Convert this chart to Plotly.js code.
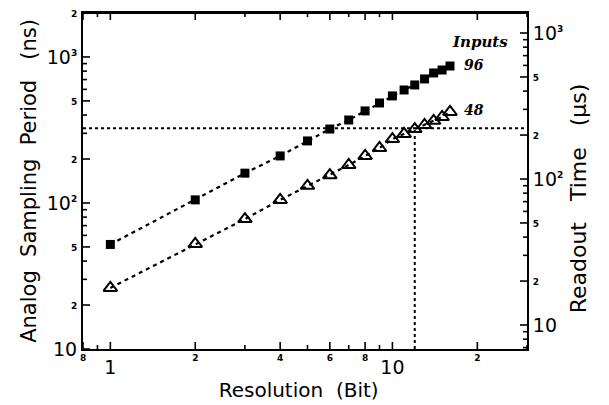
<!DOCTYPE html>
<html>
<head>
<meta charset="utf-8">
<script src="https://cdn.plot.ly/plotly-3.0.1.min.js"></script>
<style>html,body{margin:0;padding:0;background:#fff;}#chart{width:609px;height:405px;}</style>
</head>
<body>
<div id="chart"></div>
<script>
// Resolution (bit)
const resolution = [1,2,3,4,5,6,7,8,9,10,11,12,13,14,15,16];
// Analog sampling period (ns), 96 inputs
const period96 = [52,105,160,210,266,321,370,427,484,541,594,643,707,777,814,867];
// Analog sampling period (ns), 48 inputs
const period48 = [26.2,52.4,77.6,105,131,155,182,210,238,274,297,321,342,365,388,420];
const legendLabels = ["Inputs","96","48"];
// reference (dotted) lines
const refPeriod = 325;    // ns
const refResolution = 12; // bit
// axis limits
const xLimits = [0.8, 30];
const yLimits = [10, 2000];
const y2Limits = [6.85, 1371];

// tick labels ("s" = small label, "e" = power of ten)
const xLabels = {0.8:"s8",1:"1",2:"s2",4:"s4",6:"s6",8:"s8",10:"10",20:"s2"};
const yLabels = {10:"10",20:"s2",50:"s5",100:"e2",200:"s2",500:"s5",1000:"e3",2000:"s2"};
const y2Labels = {10:"10",20:"s2",50:"s5",100:"e2",200:"s2",500:"s5",1000:"e3"};

function fmt(code, shift){
  if(!code) return "";
  if(code[0]==="s") return "<span style='font-size:9px;font-weight:bold;baseline-shift:"+shift+"px'>"+code.slice(1)+"</span>";
  if(code[0]==="e") return "10<sup><span style='font-size:9px;font-weight:bold'>"+code.slice(1)+"</span></sup>";
  return code;
}
function tickSet(lim, labels, shift){
  const vals=[], text=[], major=[];
  for(let d=0.1; d<1e5; d*=10){
    for(let m=1;m<10;m++){
      const v=Math.round(m*d*1000)/1000;
      if(v>=lim[0]-1e-9 && v<=lim[1]+1e-9){ vals.push(v); text.push(fmt(labels[v], shift)); major.push(!!labels[v]); }
    }
  }
  return {vals, text, major};
}
const xt = tickSet(xLimits, xLabels, 13);
const yt = tickSet(yLimits, yLabels, 3);
const y2t = tickSet(y2Limits, y2Labels, 3);

// inside tick marks as line segments on the log axes
const plotW = 609-83-82, plotH = 405-13-56;
const xPxPerDec = plotW / Math.log10(xLimits[1]/xLimits[0]);
const yPxPerDec = plotH / Math.log10(yLimits[1]/yLimits[0]);
const y2PxPerDec = plotH / Math.log10(y2Limits[1]/y2Limits[0]);
const lenOf = m => m ? 7 : 4;
const tx=[], ty=[];
xt.vals.forEach((v,i)=>{
  const f = Math.pow(10, lenOf(xt.major[i])/yPxPerDec);
  tx.push(v,v,null, v,v,null);
  ty.push(yLimits[0], yLimits[0]*f, null, yLimits[1], yLimits[1]/f, null);
});
yt.vals.forEach((v,i)=>{
  const g = Math.pow(10, lenOf(yt.major[i])/xPxPerDec);
  tx.push(xLimits[0], xLimits[0]*g, null);
  ty.push(v, v, null);
});
const t2x=[], t2y=[];
y2t.vals.forEach((v,i)=>{
  const g = Math.pow(10, lenOf(y2t.major[i])/xPxPerDec);
  t2x.push(xLimits[1], xLimits[1]/g, null);
  t2y.push(v, v, null);
});

const lineStyle = {color:'black', width:2.2, dash:'4px,4px'};
const refStyle = {color:'black', width:2, dash:'dot'};

const traces = [
  {x:tx, y:ty, mode:'lines', line:{color:'black', width:1.6}, connectgaps:false, cliponaxis:false, showlegend:false, hoverinfo:'skip'},
  {x:t2x, y:t2y, yaxis:'y2', mode:'lines', line:{color:'black', width:1.6}, connectgaps:false, cliponaxis:false, showlegend:false, hoverinfo:'skip'},
  {x:xLimits, y:[yLimits[1], yLimits[1]], mode:'lines', line:{color:'black', width:2}, cliponaxis:false, showlegend:false, hoverinfo:'skip'},
  {x:xLimits, y:[refPeriod, refPeriod], mode:'lines', line:refStyle, showlegend:false, hoverinfo:'skip'},
  {x:[refResolution, refResolution], y:[yLimits[0], refPeriod], mode:'lines', line:refStyle, showlegend:false, hoverinfo:'skip'},
  {x:resolution, y:period96, mode:'lines+markers', type:'scatter', line:lineStyle, marker:{symbol:'square', size:9, color:'black'}, showlegend:false, hoverinfo:'skip'},
  {x:resolution, y:period48, mode:'lines+markers', type:'scatter', line:lineStyle, marker:{symbol:'triangle-up-open', size:12, color:'black', line:{width:2, color:'black'}}, showlegend:false, hoverinfo:'skip'}
];

const axisFont = {family:'DejaVu Sans', size:19, color:'black'};
const nb = "\u00a0", zw = "\u200b";
const common = {ticks:'', showgrid:false, zeroline:false, showline:true, linecolor:'black', linewidth:2, tickfont:axisFont};

const layout = {
  width:609, height:405, margin:{l:83, r:82, t:13, b:56},
  paper_bgcolor:'white', plot_bgcolor:'rgba(0,0,0,0)',
  xaxis:Object.assign({}, common, {type:'log', range:xLimits.map(Math.log10), tickmode:'array', tickvals:xt.vals, ticktext:xt.text, mirror:true,
    title:{text:'Resolution'+nb+nb+'(Bit)'+nb+nb+zw, font:{family:'DejaVu Sans', size:20, color:'black'}, standoff:4}}),
  yaxis:Object.assign({}, common, {type:'log', range:yLimits.map(Math.log10), tickmode:'array', tickvals:yt.vals, ticktext:yt.text,
    title:{text:'Analog'+nb+nb+'Sampling'+nb+nb+'Period'+nb+nb+nb+'(ns)', font:{family:'DejaVu Sans', size:21, color:'black'}, standoff:4}}),
  yaxis2:Object.assign({}, common, {type:'log', overlaying:'y', side:'right', range:y2Limits.map(Math.log10), tickmode:'array', tickvals:y2t.vals, ticktext:y2t.text,
    title:{text:'Readout'+nb+nb+nb+'Time'+nb+nb+nb+'(µs)'+nb.repeat(5)+zw, font:{family:'DejaVu Sans', size:22, color:'black'}, standoff:8}}),
  annotations:[
    {xref:'paper', yref:'paper', x:0.894, y:0.914, xanchor:'center', yanchor:'middle', text:'<b><i>'+legendLabels[0]+'</i></b>', showarrow:false, font:{family:'DejaVu Serif', size:15, color:'black'}},
    {xref:'paper', yref:'paper', x:0.881, y:0.845, xanchor:'center', yanchor:'middle', text:'<b><i>'+legendLabels[1]+'</i></b>', showarrow:false, font:{family:'DejaVu Serif', size:14, color:'black'}},
    {xref:'paper', yref:'paper', x:0.881, y:0.711, xanchor:'center', yanchor:'middle', text:'<b><i>'+legendLabels[2]+'</i></b>', showarrow:false, font:{family:'DejaVu Serif', size:14, color:'black'}}
  ]
};

Plotly.newPlot('chart', traces, layout, {displayModeBar:false});
</script>
</body>
</html>
